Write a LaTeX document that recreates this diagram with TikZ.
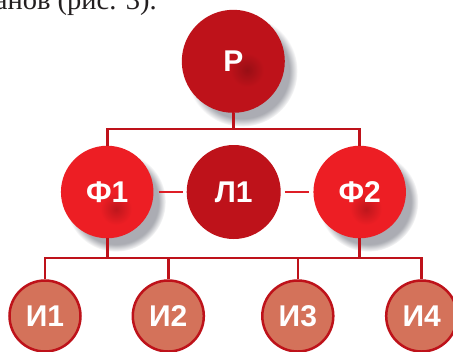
\documentclass[tikz,border=0pt]{standalone}
\usepackage{fontspec}
\setmainfont{Liberation Serif}
\setsansfont{Liberation Sans}
\usetikzlibrary{shadows,fadings}
\definecolor{dred}{RGB}{190,18,26}
\definecolor{bred}{RGB}{237,30,36}
\definecolor{salmon}{RGB}{212,114,90}
\definecolor{lred}{RGB}{222,30,38}
\definecolor{shgray}{RGB}{150,152,160}
\definecolor{txt}{RGB}{35,31,32}
\tikzset{
  lab/.style={text=white,font=\sffamily\bfseries\fontsize{30bp}{30bp}\selectfont},
  shad/.style={circular drop shadow={shadow xshift=8bp,shadow yshift=-9bp,shadow scale=1.08,fill=shgray,opacity=.8}},
  bigc/.style={circle,inner sep=0pt,lab},
  leaf/.style={circle,inner sep=0pt,minimum size=71bp,fill=salmon,draw=dred,line width=2.5bp,lab},
  conn/.style={draw=dred,line width=2.6bp},
  side/.style={draw=lred,line width=2.6bp}
}
\begin{document}
\begin{tikzpicture}[x=1bp,y=-1bp]
\clip (0,0) rectangle (453,351);
\fill[white] (0,0) rectangle (453,351);
% fragment of the page text above the figure
\node[anchor=base east,inner sep=0pt,text=txt,font=\fontsize{28.5bp}{28.5bp}\selectfont] (txtline) at (157,9) {анов (рис. 3).};
\coordinate (j1) at (233.3,129);
\coordinate (b1) at (107.2,258);
\coordinate (b2) at (359.7,258);
\node[bigc,minimum size=103bp,fill=dred,shad] (P) at (233.3,61.3) {};
\node[bigc,minimum size=92.5bp,fill=bred,shad] (F1) at (107.2,192) {};
\node[bigc,minimum size=92.5bp,fill=bred,shad] (F2) at (359.7,192) {};
\node[bigc,minimum size=94bp,fill=dred] (L1) at (233.7,192) {Л1};
% inner dark spots
\shade[inner color=dred!80!black,outer color=dred] (247,70) circle (17);
\shade[inner color=bred!70!dred!85!black,outer color=bred] (116,209) circle (16);
\shade[inner color=bred!70!dred!85!black,outer color=bred] (366,209) circle (16);
\node[lab] (Pt) at (P) {Р};
\node[lab] (F1t) at (F1) {Ф1};
\node[lab] (F2t) at (F2) {Ф2};
\node[leaf] (I1) at (45,316) {И1};
\node[leaf] (I2) at (168.3,316) {И2};
\node[leaf] (I3) at (297.8,316) {И3};
\node[leaf] (I4) at (421.7,316) {И4};
\draw[conn] (P) -- (j1);
\draw[conn] (F1.north) |- (j1) -| (F2.north);
\draw[side,shorten <=5bp,shorten >=4bp] (F1) -- (L1);
\draw[side,shorten <=4bp,shorten >=4bp] (L1) -- (F2);
\draw[conn] (F1) -- (b1);
\draw[conn] (F2) -- (b2);
\draw[conn] (I1.north) |- (b1) -- (b2) -| (I4.north);
\draw[conn] (I2.north) -- (I2.north |- b1);
\draw[conn] (I3.north) -- (I3.north |- b1);
\end{tikzpicture}
\end{document}
